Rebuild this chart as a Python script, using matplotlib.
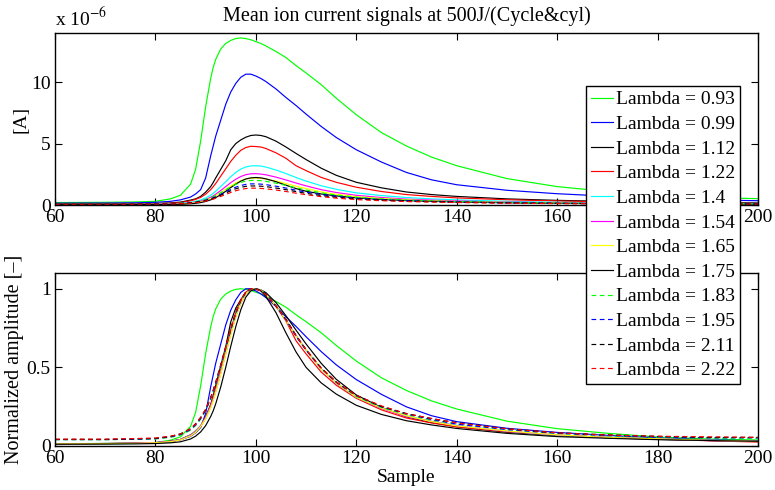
import numpy as np
import matplotlib
matplotlib.use("Agg")
import matplotlib.pyplot as plt

plt.rcParams['font.family'] = ['Liberation Serif', 'DejaVu Serif']
plt.rcParams['mathtext.fontset'] = 'stix'

# sample axis shared by all series
sample = [60, 70, 76, 80, 83, 85, 87, 88, 89, 90, 91, 91.5, 92, 93, 94, 95, 96, 97, 98, 99, 100,
          101, 102, 104, 106, 108, 110, 113, 116, 120, 125, 130, 135, 140, 150, 160, 170, 180, 190, 200]

# mean ion current, units of 1e-6 A
lam093 = [0.2, 0.22, 0.25, 0.3, 0.5, 0.8, 1.7, 2.9, 5.2, 8.0, 10.3, 11.2, 11.85, 12.7, 13.15, 13.4, 13.55, 13.6, 13.55, 13.45, 13.3,
          13.15, 12.95, 12.5, 12.0, 11.35, 10.75, 9.8, 8.7, 7.35, 5.9, 4.8, 3.9, 3.2, 2.15, 1.5, 1.1, 0.78, 0.6, 0.52]
lam099 = [0.15, 0.16, 0.18, 0.22, 0.3, 0.42, 0.65, 0.9, 1.25, 2.2, 4.0, 4.8, 5.6, 6.9, 8.2, 9.2, 9.9, 10.4, 10.65, 10.65, 10.5,
          10.3, 10.05, 9.45, 8.75, 8.1, 7.4, 6.4, 5.5, 4.5, 3.5, 2.65, 2.05, 1.65, 1.2, 0.92, 0.72, 0.55, 0.42, 0.35]
lam112 = [0.08, 0.09, 0.1, 0.12, 0.17, 0.24, 0.4, 0.5, 0.7, 1.05, 1.5, 1.83, 2.2, 2.9, 3.6, 4.5, 5.0, 5.3, 5.52, 5.66, 5.7,
          5.66, 5.56, 5.2, 4.72, 4.2, 3.7, 3.0, 2.42, 1.85, 1.4, 1.06, 0.85, 0.7, 0.5, 0.38, 0.3, 0.24, 0.2, 0.17]
lam122 = [0.06, 0.07, 0.08, 0.1, 0.14, 0.2, 0.34, 0.46, 0.62, 0.88, 1.25, 1.49, 1.75, 2.35, 2.95, 3.55, 4.05, 4.45, 4.68, 4.78, 4.76,
          4.72, 4.6, 4.25, 3.8, 3.2, 2.8, 2.25, 1.85, 1.45, 1.1, 0.85, 0.7, 0.58, 0.43, 0.33, 0.26, 0.21, 0.16, 0.12]
lam140 = [0.04, 0.045, 0.05, 0.065, 0.09, 0.13, 0.22, 0.3, 0.41, 0.57, 0.8, 0.95, 1.12, 1.5, 1.9, 2.3, 2.65, 2.92, 3.1, 3.18, 3.2,
          3.17, 3.09, 2.85, 2.56, 2.24, 1.95, 1.57, 1.28, 0.99, 0.77, 0.61, 0.5, 0.42, 0.3, 0.22, 0.175, 0.145, 0.115, 0.095]
lam154 = [0.035, 0.04, 0.045, 0.055, 0.075, 0.1, 0.17, 0.23, 0.32, 0.45, 0.63, 0.75, 0.88, 1.18, 1.5, 1.82, 2.1, 2.32, 2.47, 2.54, 2.55,
          2.52, 2.46, 2.27, 2.04, 1.79, 1.56, 1.25, 1.02, 0.79, 0.61, 0.48, 0.4, 0.33, 0.24, 0.18, 0.14, 0.115, 0.09, 0.075]
lam165 = [0.03, 0.033, 0.037, 0.045, 0.06, 0.085, 0.14, 0.19, 0.27, 0.38, 0.53, 0.63, 0.75, 1.0, 1.28, 1.55, 1.8, 1.99, 2.12, 2.18, 2.19,
          2.17, 2.11, 1.95, 1.75, 1.53, 1.34, 1.07, 0.88, 0.68, 0.53, 0.42, 0.34, 0.28, 0.21, 0.155, 0.12, 0.1, 0.08, 0.065]
lam175 = [0.025, 0.028, 0.03, 0.035, 0.045, 0.06, 0.1, 0.14, 0.2, 0.29, 0.42, 0.5, 0.6, 0.84, 1.12, 1.42, 1.7, 1.94, 2.12, 2.21, 2.24,
          2.21, 2.13, 1.9, 1.61, 1.34, 1.12, 0.9, 0.74, 0.58, 0.45, 0.36, 0.3, 0.25, 0.18, 0.134, 0.11, 0.09, 0.078, 0.067]
lam183 = [0.08, 0.08, 0.085, 0.09, 0.11, 0.14, 0.2, 0.26, 0.34, 0.45, 0.6, 0.69, 0.79, 1.0, 1.24, 1.47, 1.68, 1.84, 1.95, 2.0, 2.0,
          1.98, 1.93, 1.78, 1.6, 1.4, 1.22, 0.99, 0.81, 0.63, 0.49, 0.4, 0.33, 0.28, 0.21, 0.16, 0.13, 0.11, 0.1, 0.1]
lam195 = [0.07, 0.07, 0.075, 0.08, 0.1, 0.125, 0.18, 0.23, 0.3, 0.39, 0.52, 0.6, 0.68, 0.87, 1.07, 1.27, 1.45, 1.59, 1.68, 1.72, 1.72,
          1.7, 1.66, 1.53, 1.38, 1.2, 1.05, 0.85, 0.7, 0.55, 0.43, 0.35, 0.29, 0.24, 0.18, 0.14, 0.115, 0.1, 0.09, 0.09]
lam211 = [0.065, 0.065, 0.07, 0.075, 0.095, 0.12, 0.17, 0.22, 0.28, 0.36, 0.48, 0.55, 0.63, 0.8, 0.98, 1.16, 1.32, 1.44, 1.52, 1.55, 1.55,
          1.53, 1.5, 1.38, 1.25, 1.09, 0.95, 0.77, 0.63, 0.5, 0.39, 0.32, 0.27, 0.23, 0.17, 0.13, 0.11, 0.095, 0.085, 0.085]
lam222 = [0.06, 0.06, 0.065, 0.07, 0.085, 0.105, 0.15, 0.19, 0.25, 0.32, 0.42, 0.48, 0.55, 0.7, 0.86, 1.02, 1.16, 1.27, 1.34, 1.37, 1.37,
          1.35, 1.32, 1.22, 1.1, 0.96, 0.84, 0.68, 0.56, 0.44, 0.35, 0.28, 0.24, 0.2, 0.15, 0.115, 0.095, 0.085, 0.08, 0.075]

labels = ['0.93', '0.99', '1.12', '1.22', '1.4', '1.54', '1.65', '1.75', '1.83', '1.95', '2.11', '2.22']
series = [lam093, lam099, lam112, lam122, lam140, lam154, lam165, lam175, lam183, lam195, lam211, lam222]
styles = ['g-', 'b-', 'k-', 'r-', 'c-', 'm-', 'y-', 'k-', 'g--', 'b--', 'k--', 'r--']
colors = {'g': (0, 1, 0), 'b': (0, 0, 1), 'k': (0, 0, 0), 'r': (1, 0, 0),
          'c': (0, 1, 1), 'm': (1, 0, 1), 'y': (1, 1, 0)}

fig = plt.figure(figsize=(7.75, 4.9), dpi=100)
ax1 = fig.add_axes([0.071, 0.5816, 0.907, 0.351])
ax2 = fig.add_axes([0.071, 0.0898, 0.907, 0.353])

handles = []
for lab, y, st in zip(labels, series, styles):
    y = np.array(y)
    ls = '--' if '--' in st else '-'
    c = colors[st[0]]
    h, = ax1.plot(sample, y, color=c, ls=ls, lw=0.85, label='Lambda = ' + lab)
    h2, = ax2.plot(sample, y / y.max(), color=c, ls=ls, lw=0.85)
    if ls == '--':
        h.set_dashes((4, 3))
        h2.set_dashes((4, 3))
    handles.append(h)

for ax in (ax1, ax2):
    ax.set_xlim(60, 200)
    ax.set_xticks(range(60, 201, 20))
    ax.tick_params(direction='in', top=True, right=True, length=5, width=0.8,
                   labelsize=14, pad=3)
    for sp in ax.spines.values():
        sp.set_linewidth(1.0)

ax1.set_ylim(0, 14)
ax1.set_yticks([0, 5, 10])
ax1.set_yticklabels(['0', '5', '10'])
ax1.set_ylabel('[A]', fontsize=14, labelpad=1.5)
ax1.set_title('Mean ion current signals at 500J/(Cycle&cyl)', fontsize=14.5, pad=9)
ax1.text(0.0, 1.02, r'x 10$^{-6}$', transform=ax1.transAxes, fontsize=14,
         ha='left', va='bottom')

ax2.set_ylim(0, 1.1)
ax2.set_yticks([0, 0.5, 1])
ax2.set_yticklabels(['0', '0.5', '1'])
ax2.set_ylabel('Normalized amplitude [\u2013]', fontsize=14.5, labelpad=2)
ax2.set_xlabel('Sample', fontsize=14, labelpad=1)

leg = fig.legend(handles=handles, loc='upper left', bbox_to_anchor=(0.756, 0.8245),
                 fontsize=14, frameon=True, fancybox=False, edgecolor='k',
                 handlelength=1.15, handletextpad=0.15, borderpad=0.25,
                 labelspacing=0.36, borderaxespad=0)
leg.get_frame().set_linewidth(1.0)
leg.get_frame().set_alpha(1)

fig.savefig('out.png', dpi=100)
